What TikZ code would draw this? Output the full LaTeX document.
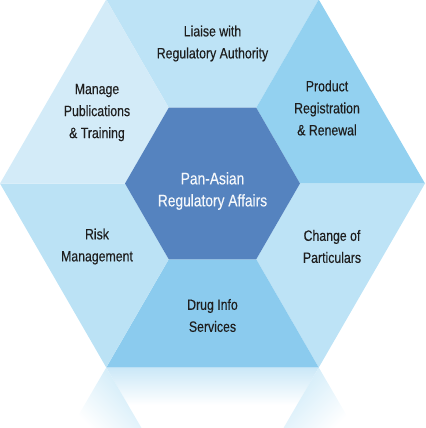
\documentclass[tikz,border=0pt]{standalone}
\usepackage{fontspec}
\setmainfont{Liberation Sans}[FakeStretch=0.82, FakeBold=0.3]
\usepackage{tikz}
\usetikzlibrary{positioning,calc}
\definecolor{hxcentre}{RGB}{85,131,191}
\definecolor{hxtop}{RGB}{189,227,246}
\definecolor{hxpale}{RGB}{211,235,248}
\definecolor{hxmid}{RGB}{147,209,240}
\definecolor{hxlow}{RGB}{187,226,245}
\definecolor{hxdeep}{RGB}{139,203,238}
\definecolor{hxtext}{RGB}{30,30,30}
\tikzset{
  seglabel/.style={
    inner sep=0pt, align=center, text=hxtext,
    font=\fontsize{11.25}{16.5}\selectfont
  },
  corelabel/.style={
    seglabel, text=white!94!hxcentre,
    font=\fontsize{12.6}{16.5}\selectfont
  }
}

\begin{document}
\begin{tikzpicture}[x=0.75pt, y=-0.75pt]
  \useasboundingbox (0,0) rectangle (425,428);

  \coordinate (o1) at (106.25,-0.5);
  \coordinate (o2) at (318.75,-0.5);
  \coordinate (o3) at (425,183.5);
  \coordinate (o4) at (318.75,367.5);
  \coordinate (o5) at (106.25,367.5);
  \coordinate (o6) at (0,183.5);
  \coordinate (i1) at (168.75,107.7);
  \coordinate (i2) at (256.25,107.7);
  \coordinate (i3) at (300,183.5);
  \coordinate (i4) at (256.25,259.3);
  \coordinate (i5) at (168.75,259.3);
  \coordinate (i6) at (125,183.5);

  \fill[hxtop]  (o1) -- (o2) -- (i2) -- (i1) -- cycle;
  \fill[hxmid]  (o2) -- (o3) -- (i3) -- (i2) -- cycle;
  \fill[hxtop]  (o3) -- (o4) -- (i4) -- (i3) -- cycle;
  \fill[hxdeep] (o4) -- (o5) -- (i5) -- (i4) -- cycle;
  \fill[hxlow]  (o5) -- (o6) -- (i6) -- (i5) -- cycle;
  \fill[hxpale] (o6) -- (o1) -- (i1) -- (i6) -- cycle;
  \fill[hxcentre] (i1) -- (i2) -- (i3) -- (i4) -- (i5) -- (i6) -- cycle;

  \begin{scope}
    \clip (o5) -- (o4) -- (256.25,475.7) -- (168.75,475.7) -- cycle;
    \shade[top color=hxdeep!45, bottom color=white] (100,367.5) rectangle (330,405);
  \end{scope}
  \shade[top color=hxlow!75, bottom color=white, shading angle=-45]
    (o5) -- (71,428) -- (141.5,428) -- cycle;
  \shade[top color=hxtop!75, bottom color=white, shading angle=45]
    (o4) -- (354,428) -- (283.5,428) -- cycle;

  \node[seglabel] (liaise) at (212.5,43.5) {Liaise with\\Regulatory Authority};
  \node[seglabel] (publish) at (97,112.5) {Manage\\Publications\\\& Training};
  \node[seglabel] (register) at (327,108) {Product\\Registration\\\& Renewal};
  \node[corelabel] (core) at (212.5,191) {Pan-Asian\\Regulatory Affairs};
  \node[seglabel] (risk) at (97,246.5) {Risk\\Management};
  \node[seglabel] (change) at (332,246.5) {Change of\\Particulars};
  \node[seglabel] (druginfo) at (212.5,315.5) {Drug Info\\Services};
\end{tikzpicture}
\end{document}
